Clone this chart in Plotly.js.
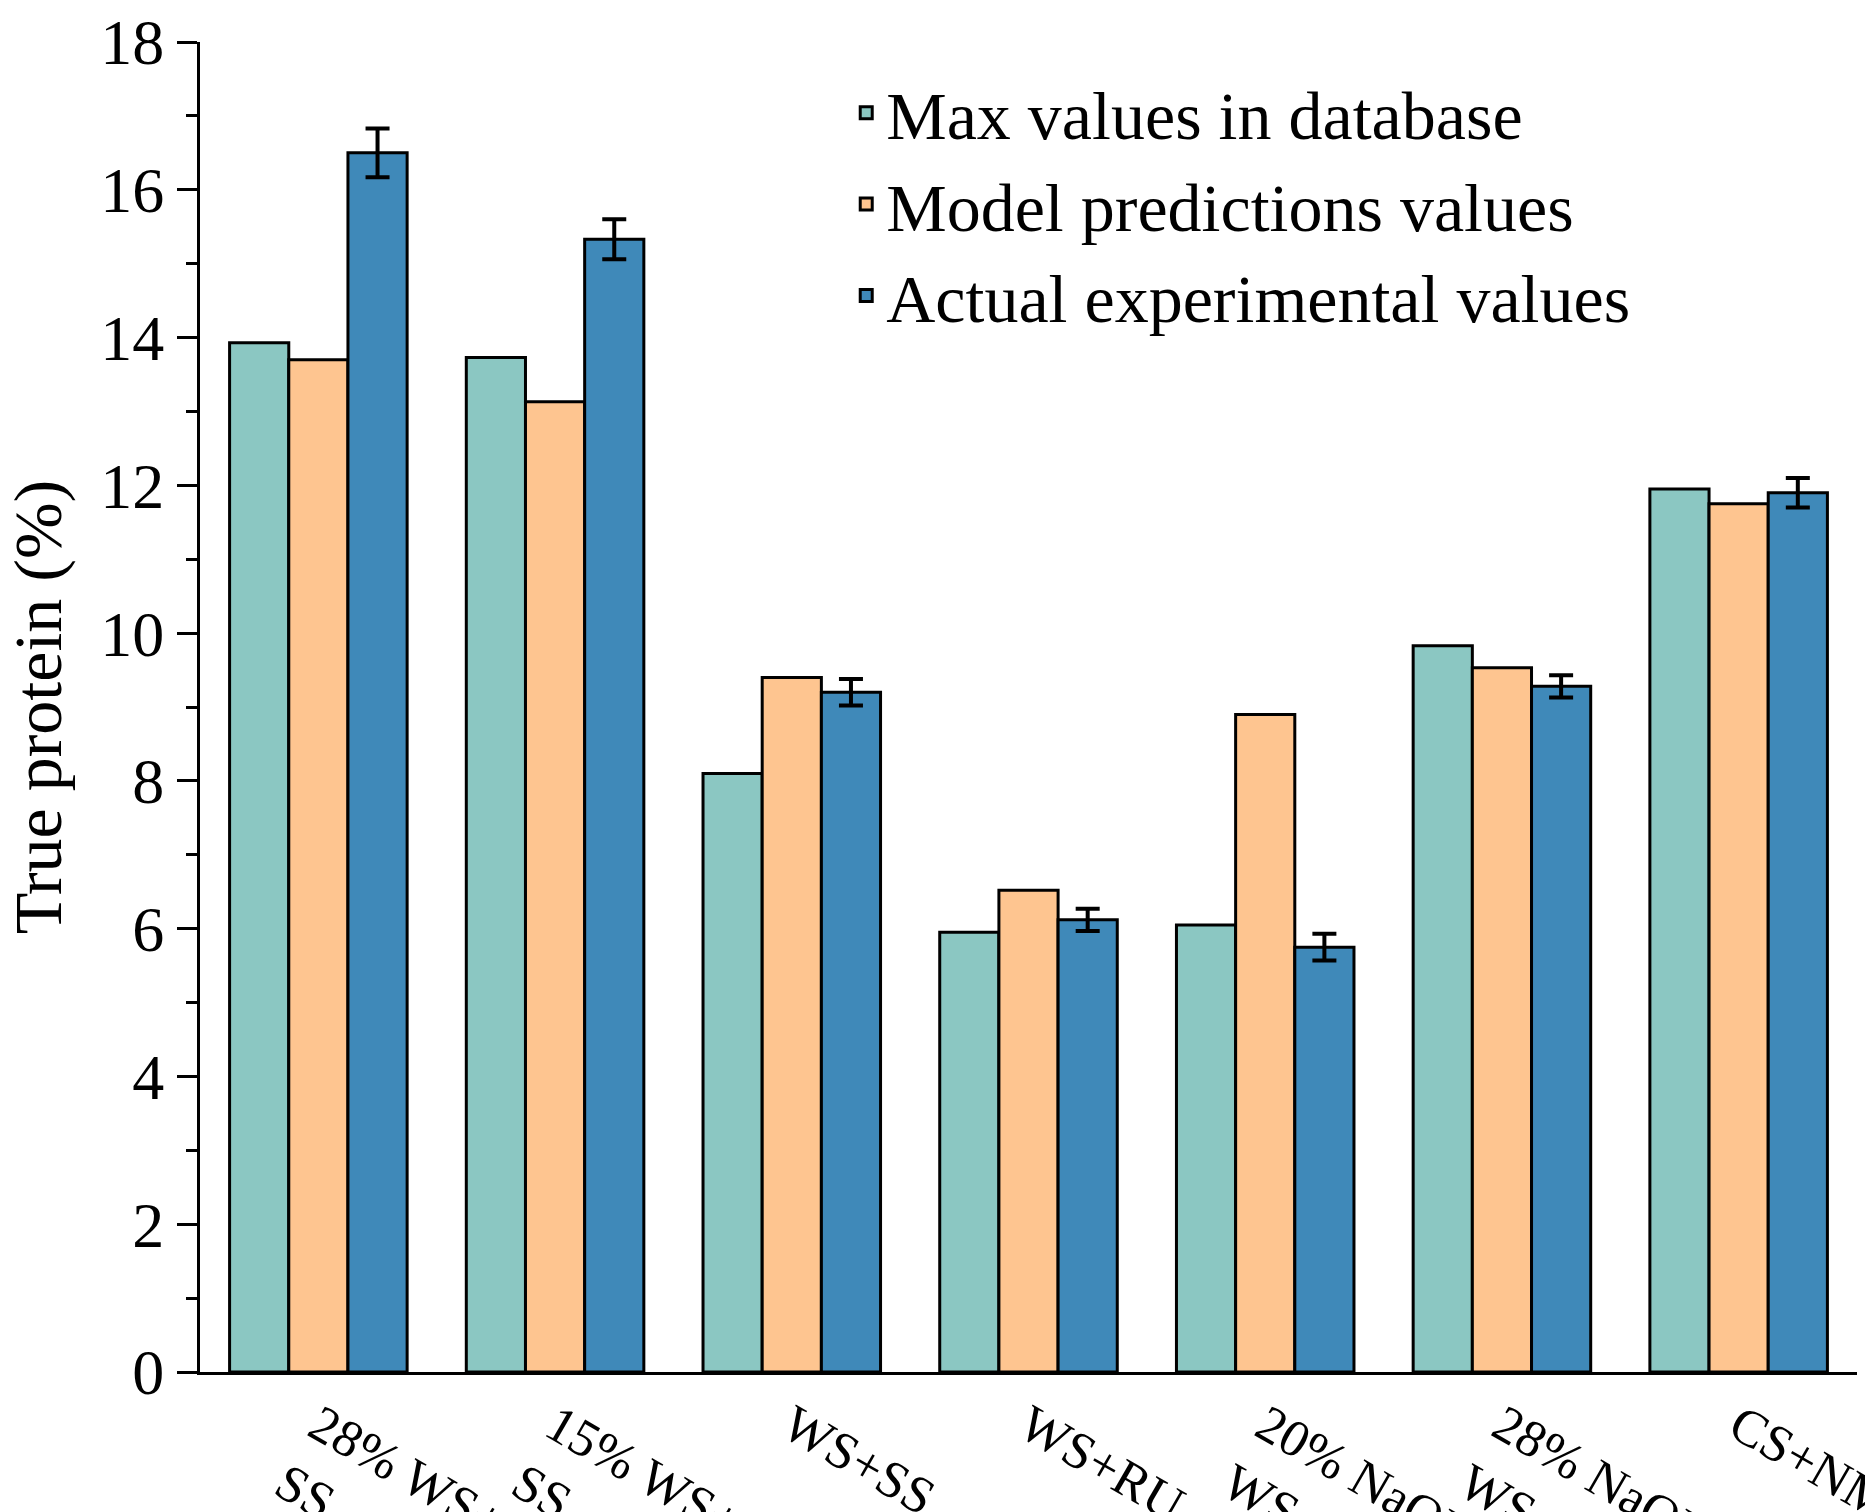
<!DOCTYPE html>
<html><head><script src="https://cdn.plot.ly/plotly-3.0.1.min.js"></script></head>
<body style="margin:0"><div id="chart" style="width:1865px;height:1512px"></div>
<script>
var categories = ['28% WS+<br>SS', '15% WS+<br>SS', 'WS+SS', 'WS+RU', '20% NaOH<br>WS+OS', '28% NaOH<br>WS+OS', 'CS+NM'];
var maxValues = [13.93, 13.73, 8.1, 5.95, 6.05, 9.83, 11.95];
var modelValues = [13.7, 13.13, 9.4, 6.52, 8.9, 9.53, 11.75];
var actualValues = [16.5, 15.33, 9.2, 6.12, 5.75, 9.28, 11.9];
var actualErrors = [0.33, 0.27, 0.18, 0.15, 0.18, 0.15, 0.2];

function trace(name, y, color, err) {
    var t = {
        x: categories, y: y, type: 'bar', name: name,
        marker: {color: color, line: {color: '#000', width: 3}}
    };
    if (err) t.error_y = {type: 'data', array: err, color: '#000', thickness: 4, width: 12};
    return t;
}
var data = [
    trace('Max values in database', maxValues, '#8bc7c2'),
    trace('Model predictions values', modelValues, '#fec590'),
    trace('Actual experimental values', actualValues, '#3f89b9', actualErrors)
];
var font = {family: 'Liberation Serif, Times New Roman, serif', color: '#000'};
var layout = {
    width: 1865, height: 1512,
    margin: {l: 200, r: 8, t: 42, b: 140},
    barmode: 'group', bargap: 0.25, bargroupgap: 0,
    paper_bgcolor: '#fff', plot_bgcolor: '#fff',
    font: font,
    showlegend: true,
    legend: {x: 0.39, y: 0.985, xanchor: 'left', yanchor: 'top', font: {family: font.family, size: 68},
             bgcolor: 'rgba(0,0,0,0)', tracegroupgap: 0},
    xaxis: {range: [-0.5, 6.5], showline: true, linecolor: '#000', linewidth: 3,
            ticks: '', tickfont: {family: font.family, size: 52}, showgrid: false},
    yaxis: {range: [0, 18], dtick: 2, showline: true, linecolor: '#000', linewidth: 3,
            ticks: 'outside', ticklen: 20, tickwidth: 3, tickcolor: '#000',
            minor: {dtick: 1, ticks: 'outside', ticklen: 11, tickwidth: 3, tickcolor: '#000'},
            tickfont: {family: font.family, size: 64}, showgrid: false, zeroline: false,
            title: {text: 'True protein (%)', font: {family: font.family, size: 68}, standoff: 20}}
};
Plotly.newPlot('chart', data, layout, {displayModeBar: false});
</script></body></html>
